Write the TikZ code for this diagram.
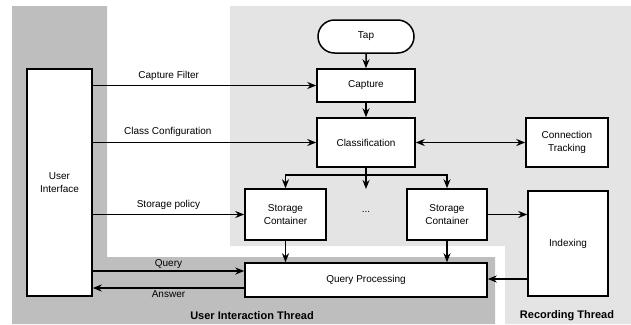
\documentclass[tikz,border=0pt]{standalone}
\usepackage{fontspec}
\setmainfont{Liberation Sans}
\usetikzlibrary{arrows.meta,shapes.misc,calc}
\definecolor{darkbg}{RGB}{190,190,190}
\definecolor{lightbg}{RGB}{228,228,228}
\begin{document}
\begin{tikzpicture}[x=1pt,y=-1pt,
  box/.style={draw=black,line width=1.5pt,fill=white,align=center,inner sep=1pt,font=\fontsize{10}{13}\selectfont},
  arr/.style={line width=1.5pt,-{Stealth[length=9pt,width=7pt]}},
  lbl/.style={font=\fontsize{10}{12}\selectfont,inner sep=1pt},
  thread/.style={font=\fontsize{11}{13}\selectfont\bfseries}]
\useasboundingbox (0,0) rectangle (631,324);
% backgrounds
\fill[darkbg] (12,6) -- (107,6) -- (107,257) -- (495,257) -- (495,324) -- (12,324) -- cycle;
\fill[lightbg] (230,6) -- (631,6) -- (631,324) -- (505,324) -- (505,246) -- (230,246) -- cycle;
% nodes
\node[box,rounded rectangle,minimum width=98pt,minimum height=33pt] (tap) at (366,36.5) {Tap};
\node[box,minimum width=98pt,minimum height=33pt] (cap) at (366,85.5) {Capture};
\node[box,minimum width=98pt,minimum height=49pt] (cls) at (366,142.5) {Classification};
\node[box,minimum width=82pt,minimum height=49pt] (ct) at (567,142.5) {Connection\\Tracking};
\node[box,minimum width=65pt,minimum height=227pt] (ui) at (59.5,182.5) {User\\Interface};
\node[box,minimum width=81pt,minimum height=51pt] (sc1) at (285.5,214.5) {Storage\\Container};
\node[box,minimum width=80pt,minimum height=51pt] (sc2) at (447,214.5) {Storage\\Container};
\node[lbl] (dots) at (366,212) {...};
\node[box,minimum width=80pt,minimum height=105pt] (idx) at (568,243.5) {Indexing};
\node[box,minimum width=242pt,minimum height=34pt] (qp) at (366,280) {Query Processing};
\coordinate (split) at (366,175);
\coordinate (dotsin) at (366,189);
% thread labels
\node[thread] (uit) at (252,316) {User Interaction Thread};
\node[thread] (rt) at (567,316) {Recording Thread};
% connectors
\draw[arr] (tap) -- (cap);
\draw[arr] (cap) -- (cls);
\draw[line width=1.5pt,{Stealth[length=9pt,width=7pt]}-{Stealth[length=9pt,width=7pt]}] (cls) -- (ct);
\draw[line width=1.5pt] (cls.south) -- (split);
\draw[arr] (split) -| (sc1.north);
\draw[arr] (split) -| (sc2.north);
\draw[arr] (split) -- (dotsin);
\draw[arr] (sc1) -- (sc1 |- qp.north);
\draw[arr] (sc2) -- (sc2 |- qp.north);
\draw[arr] (sc2.east) -- (idx.west |- sc2.east);
\draw[arr] (idx.west |- 0,279) -- (qp.east |- 0,279);
\draw[arr] (ui.east |- cap.west) -- node[lbl,above=3pt,pos=0.34] {Capture Filter} (cap.west);
\draw[arr] (ui.east |- cls.west) -- node[lbl,above=4pt,pos=0.336] {Class Configuration} (cls.west);
\draw[arr] (ui.east |- sc1.west) -- node[lbl,above=3pt,pos=0.5] {Storage policy} (sc1.west);
\draw[arr] (ui.east |- 0,271) -- node[lbl,above=1pt,pos=0.5] {Query} (qp.west |- 0,271);
\draw[arr] (qp.west |- 0,288) -- node[lbl,below=1pt,pos=0.5] {Answer} (ui.east |- 0,288);
\end{tikzpicture}
\end{document}
